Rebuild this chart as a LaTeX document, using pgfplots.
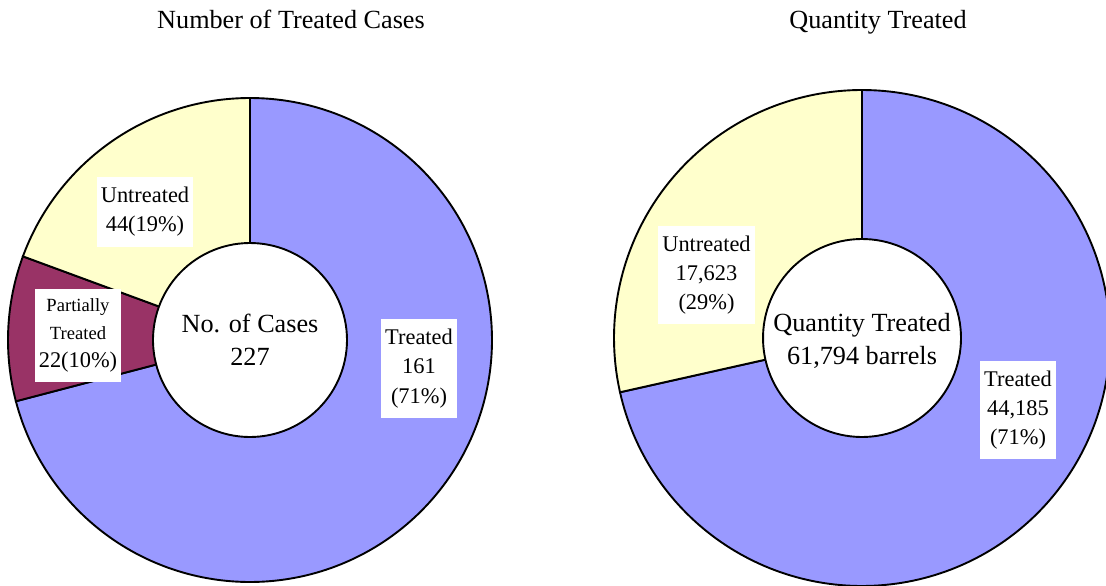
\documentclass[border=0pt]{standalone}
\usepackage{fontspec}
\setmainfont{Liberation Serif}
\usepackage{pgfplots}
\pgfplotsset{compat=1.18}
\definecolor{cTreated}{HTML}{9999FF}
\definecolor{cPartial}{HTML}{993366}
\definecolor{cUntreated}{HTML}{FFFFCC}
\newcommand\titfont{\fontsize{13.1}{16.5}\selectfont}
\newcommand\labfont{\fontsize{11.2}{14.6}\selectfont}
\newcommand\smlfont{\fontsize{9.3}{14}\selectfont}
\begin{document}
\begin{tikzpicture}
% data: number of cases
\def\LT{161}\def\LP{22}\def\LU{44}
\edef\LaA{\fpeval{round(90-360*\LT/(\LT+\LP+\LU),3)}}
\edef\LaB{\fpeval{round(\LaA-360*\LP/(\LT+\LP+\LU),3)}}
% data: quantity treated (barrels)
\def\RT{44185}\def\RU{17623}
\edef\RaA{\fpeval{round(90-360*\RT/(\RT+\RU),3)}}
\begin{axis}[scale only axis, width=553pt, height=292.5pt,
  xmin=0, xmax=1106, ymin=0, ymax=585, hide axis, clip=false]
% left donut, centre (250,245), R=242, r=97
\addplot[fill=cTreated, draw=black, line width=0.95pt, domain=\LaA:90, samples=200]
  ({250+242*cos(x)},{245+242*sin(x)}) -- (axis cs:250,245) -- cycle;
\addplot[fill=cPartial, draw=black, line width=0.95pt, domain=\LaB:\LaA, samples=40]
  ({250+242*cos(x)},{245+242*sin(x)}) -- (axis cs:250,245) -- cycle;
\addplot[fill=cUntreated, draw=black, line width=0.95pt, domain=-270:\LaB, samples=80]
  ({250+242*cos(x)},{245+242*sin(x)}) -- (axis cs:250,245) -- cycle;
\addplot[fill=white, draw=black, line width=0.95pt, domain=0:360, samples=120]
  ({250+97*cos(x)},{245+97*sin(x)}) -- cycle;
% right donut, centre (862,247), R=248, r=99
\addplot[fill=cTreated, draw=black, line width=0.95pt, domain=\RaA:90, samples=200]
  ({862+248*cos(x)},{247+248*sin(x)}) -- (axis cs:862,247) -- cycle;
\addplot[fill=cUntreated, draw=black, line width=0.95pt, domain=-270:\RaA, samples=100]
  ({862+248*cos(x)},{247+248*sin(x)}) -- (axis cs:862,247) -- cycle;
\addplot[fill=white, draw=black, line width=0.95pt, domain=0:360, samples=120]
  ({862+99*cos(x)},{247+99*sin(x)}) -- cycle;
% titles
\node[anchor=base, font=\titfont] at (axis cs:291,556) {Number of Treated Cases};
\node[anchor=base, font=\titfont] at (axis cs:878,556) {Quantity Treated};
% centre texts
\node[align=center, font=\titfont] at (axis cs:250,245) {No. of Cases\\227};
\node[align=center, font=\titfont] at (axis cs:862,244) {Quantity Treated\\61,794 barrels};
% labels
\node[fill=white, inner sep=0pt, minimum width=38pt, minimum height=49.5pt, align=center, font=\labfont]
  at (axis cs:419,216.5) {Treated\\161\\(71\%)};
\node[fill=white, inner sep=0pt, minimum width=48pt, minimum height=35pt, align=center, font=\labfont]
  at (axis cs:145,373) {Untreated\\44(19\%)};
\node[fill=white, inner sep=0pt, minimum width=43pt, minimum height=46.5pt, align=center, font=\smlfont]
  at (axis cs:78,249.5) {Partially\\Treated\\{\labfont 22(10\%)}};
\node[fill=white, inner sep=0pt, minimum width=48.5pt, minimum height=49pt, align=center, font=\labfont]
  at (axis cs:706.5,310) {Untreated\\17,623\\(29\%)};
\node[fill=white, inner sep=0pt, minimum width=38pt, minimum height=49pt, align=center, font=\labfont]
  at (axis cs:1018,175) {Treated\\44,185\\(71\%)};
\end{axis}
\pgfresetboundingbox
\path[use as bounding box] (0,0) rectangle (553pt,292.5pt);
\end{tikzpicture}
\end{document}
